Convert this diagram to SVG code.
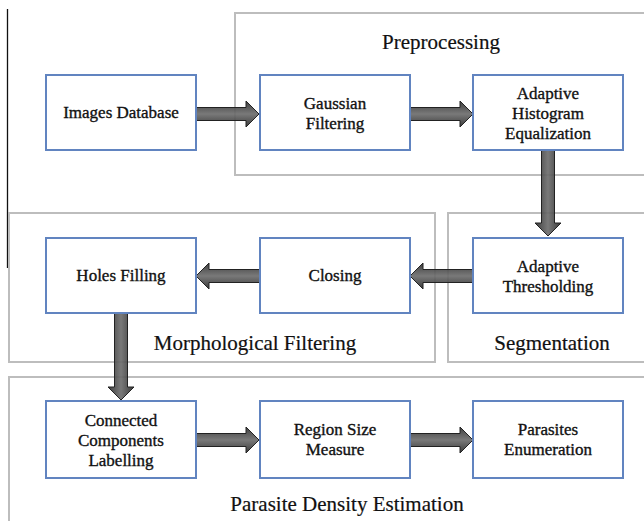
<svg xmlns="http://www.w3.org/2000/svg" width="644" height="521" viewBox="0 0 644 521">
  <defs>
    <linearGradient id="gh" x1="0" y1="0" x2="0" y2="1">
      <stop offset="0" stop-color="#2e2e2e"/>
      <stop offset="0.5" stop-color="#6e6e6e"/>
      <stop offset="1" stop-color="#2a2a2a"/>
    </linearGradient>
    <linearGradient id="gv" x1="0" y1="0" x2="1" y2="0">
      <stop offset="0" stop-color="#2e2e2e"/>
      <stop offset="0.5" stop-color="#6e6e6e"/>
      <stop offset="1" stop-color="#2a2a2a"/>
    </linearGradient>
  </defs>
  <style>
    .grp { fill: none; stroke: #bdbdbd; stroke-width: 2; }
    .node rect { fill: #ffffff; stroke: #6184c0; stroke-width: 2; }
    .lbl { font-family: "Liberation Serif", "DejaVu Serif", serif; font-size: 17px; fill: #111; stroke: #111; stroke-width: 0.35; text-anchor: middle; }
    .ttl { font-family: "Liberation Serif", "DejaVu Serif", serif; font-size: 21px; fill: #111; stroke: #111; stroke-width: 0.2; text-anchor: middle; }
    .ah { fill: url(#gh); stroke: #222; stroke-width: 1; fill-opacity: 0.92; }
    .av { fill: url(#gv); stroke: #222; stroke-width: 1; fill-opacity: 0.92; }
  </style>
  <rect width="644" height="521" fill="#ffffff"/>
  <line x1="7.5" y1="9" x2="7.5" y2="268" stroke="#111" stroke-width="1.3"/>

  <g id="group-preprocessing">
    <rect class="grp" x="235" y="13" width="420" height="162"/>
    <text class="ttl" x="441" y="49">Preprocessing</text>
  </g>
  <g id="group-morphological">
    <rect class="grp" x="9" y="213" width="426" height="149"/>
    <text class="ttl" x="255" y="350">Morphological Filtering</text>
  </g>
  <g id="group-segmentation">
    <rect class="grp" x="448" y="213" width="210" height="149"/>
    <text class="ttl" x="552" y="350">Segmentation</text>
  </g>
  <g id="group-density">
    <rect class="grp" x="9" y="377" width="650" height="160"/>
    <text class="ttl" x="347" y="511">Parasite Density Estimation</text>
  </g>

  <g id="connectors">
    <path class="ah" d="M196,107.5 H246 V101 L259,114 L246,127 V120.5 H196 Z"/>
    <path class="ah" d="M410,107.5 H460 V101 L473,114 L460,127 V120.5 H410 Z"/>
    <path class="av" d="M541.5,150 V223 H535 L548,236 L561,223 H554.5 V150 Z"/>
    <path class="ah" d="M473,269.5 H423 V263 L410,276 L423,289 V282.5 H473 Z"/>
    <path class="ah" d="M260,269.5 H209 V263 L196,276 L209,289 V282.5 H260 Z"/>
    <path class="av" d="M114.5,313 V387 H108 L121,400 L134,387 H127.5 V313 Z"/>
    <path class="ah" d="M196,433.5 H246 V427 L259,440 L246,453 V446.5 H196 Z"/>
    <path class="ah" d="M410,433.5 H460 V427 L473,440 L460,453 V446.5 H410 Z"/>
  </g>

  <g id="images-database" class="node">
    <rect x="46" y="75" width="150" height="75"/>
    <text class="lbl" x="121" y="118">Images Database</text>
  </g>
  <g id="gaussian-filtering" class="node">
    <rect x="260" y="75" width="150" height="75"/>
    <text class="lbl" x="335" y="109">Gaussian</text>
    <text class="lbl" x="335" y="129">Filtering</text>
  </g>
  <g id="adaptive-histogram" class="node">
    <rect x="473" y="75" width="150" height="75"/>
    <text class="lbl" x="548" y="99">Adaptive</text>
    <text class="lbl" x="548" y="119">Histogram</text>
    <text class="lbl" x="548" y="139">Equalization</text>
  </g>
  <g id="holes-filling" class="node">
    <rect x="46" y="238" width="150" height="75"/>
    <text class="lbl" x="121" y="281">Holes Filling</text>
  </g>
  <g id="closing" class="node">
    <rect x="260" y="238" width="150" height="75"/>
    <text class="lbl" x="335" y="281">Closing</text>
  </g>
  <g id="adaptive-thresholding" class="node">
    <rect x="473" y="238" width="150" height="75"/>
    <text class="lbl" x="548" y="272">Adaptive</text>
    <text class="lbl" x="548" y="292">Thresholding</text>
  </g>
  <g id="connected-components" class="node">
    <rect x="46" y="401" width="150" height="77"/>
    <text class="lbl" x="121" y="426">Connected</text>
    <text class="lbl" x="121" y="446">Components</text>
    <text class="lbl" x="121" y="466">Labelling</text>
  </g>
  <g id="region-size" class="node">
    <rect x="260" y="401" width="150" height="77"/>
    <text class="lbl" x="335" y="435">Region Size</text>
    <text class="lbl" x="335" y="455">Measure</text>
  </g>
  <g id="parasites-enumeration" class="node">
    <rect x="473" y="401" width="150" height="77"/>
    <text class="lbl" x="548" y="435">Parasites</text>
    <text class="lbl" x="548" y="455">Enumeration</text>
  </g>
</svg>
